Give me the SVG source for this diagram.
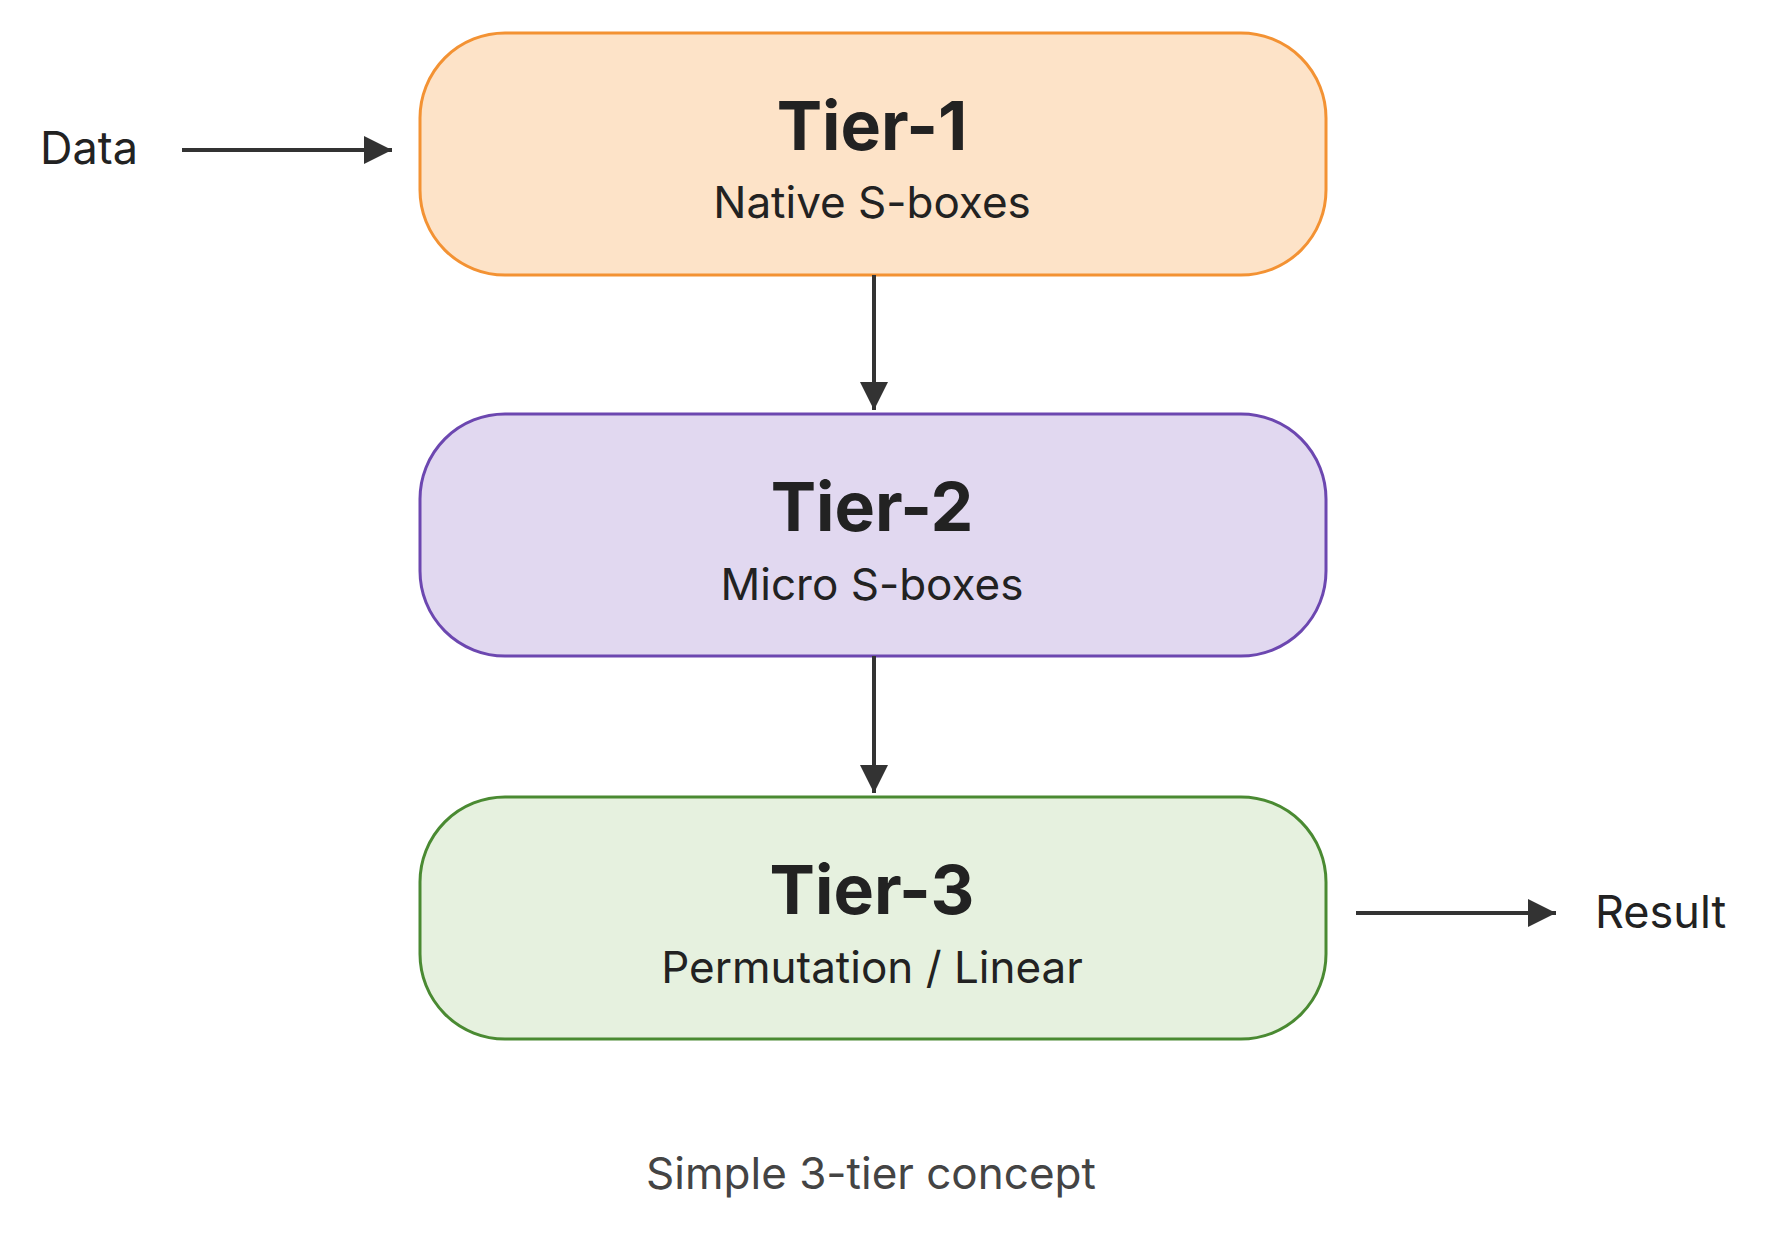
<svg xmlns="http://www.w3.org/2000/svg" width="1771" height="1236" viewBox="0 0 1771 1236">
<style>
text{font-family:Inter,"Liberation Sans",sans-serif;fill:#222;}
.t{font-size:68px;font-weight:700;text-anchor:middle;}
.s{font-size:44px;text-anchor:middle;}
.l{font-size:45px;}
.c{stroke:#333;stroke-width:4;fill:none;}
</style>
<defs><marker id="a" markerWidth="10" markerHeight="10" refX="9" refY="5" orient="auto" markerUnits="userSpaceOnUse" viewBox="0 0 10 10"><path d="M0,0L10,5L0,10z" fill="#333"/></marker>
<marker id="b" viewBox="0 0 10 10" refX="10" refY="5" markerWidth="30" markerHeight="28" orient="auto" markerUnits="userSpaceOnUse"><path d="M0,0L10,5L0,10z" fill="#333"/></marker></defs>
<rect width="1771" height="1236" fill="#fff"/>
<g id="data"><text class="l" x="40" y="164">Data</text></g>
<g id="tier1"><rect x="420" y="33" width="906" height="242" rx="85" fill="#fde3c8" stroke="#f39233" stroke-width="3"/><text class="t" x="872" y="150">Tier-1</text><text class="s" x="872" y="218">Native S-boxes</text></g>
<g id="tier2"><rect x="420" y="414" width="906" height="242" rx="85" fill="#e1d8f0" stroke="#6c47b0" stroke-width="3"/><text class="t" x="872" y="531">Tier-2</text><text class="s" x="872" y="600">Micro S-boxes</text></g>
<g id="tier3"><rect x="420" y="797" width="906" height="242" rx="85" fill="#e6f1df" stroke="#4a8a32" stroke-width="3"/><text class="t" x="872" y="914">Tier-3</text><text class="s" x="872" y="983">Permutation / Linear</text></g>
<g id="result"><text class="l" x="1595" y="928">Result</text></g>
<g id="caption"><text class="s" x="871" y="1189" style="fill:#444">Simple 3-tier concept</text></g>
<g id="connectors">
<line class="c" x1="182" y1="150" x2="392" y2="150" marker-end="url(#b)"/>
<line class="c" x1="874" y1="275" x2="874" y2="410" marker-end="url(#b)"/>
<line class="c" x1="874" y1="656" x2="874" y2="793" marker-end="url(#b)"/>
<line class="c" x1="1356" y1="913" x2="1556" y2="913" marker-end="url(#b)"/>
</g>
</svg>
